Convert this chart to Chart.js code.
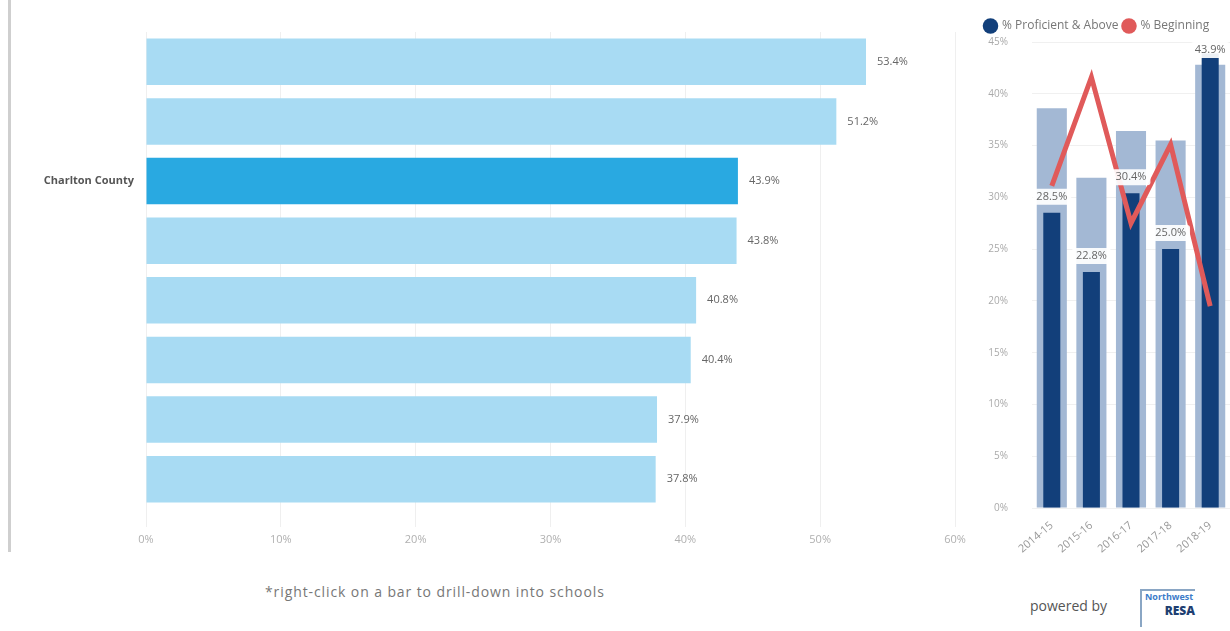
<!DOCTYPE html>
<html lang="en">
  <head>
    <meta charset="UTF-8" />
    <title>Proficiency by District</title>
    <script src="https://cdn.jsdelivr.net/npm/chart.js"></script>
    <style>
      body {
        margin: 0;
        background: #ffffff;
        font-family: "Open Sans", sans-serif;
        width: 1230px;
        height: 631px;
        position: relative;
        overflow: hidden;
      }
      .box { position: absolute; }
      #leftWrap { left: 0; top: 0; width: 980px; height: 549px; }
      #rightWrap { left: 980px; top: 0; width: 250px; height: 558px; }
      .edge {
        position: absolute;
        left: 8px;
        top: 0;
        width: 3px;
        height: 552px;
        background: #cfcfcf;
      }
      .note {
        position: absolute;
        left: 265px;
        top: 582px;
        font-size: 14px;
        letter-spacing: 0.9px;
        color: #777;
      }
      .powered {
        position: absolute;
        left: 1030px;
        top: 596px;
        font-size: 14px;
        color: #555;
      }
      .logo {
        position: absolute;
        left: 1140px;
        top: 589px;
        width: 50px;
        height: 36px;
        border-left: 2px solid #8aa6c4;
        border-top: 2px solid #8aa6c4;
        font-size: 9px;
        line-height: 11px;
        color: #3d7cc9;
        font-weight: bold;
        padding-left: 3px;
      }
      .logo b {
        display: block;
        text-align: right;
        font-size: 12px;
        color: #1f3f72;
        margin-top: 3px;
      }
    </style>
  </head>
  <body>
    <div class="edge"></div>
    <div class="box" id="leftWrap"><canvas id="districtChart"></canvas></div>
    <div class="box" id="rightWrap"><canvas id="trendChart"></canvas></div>
    <div class="note">*right-click on a bar to drill-down into schools</div>
    <div class="powered">powered by</div>
    <div class="logo">Northwest<b>RESA</b></div>

    <script>
      Chart.defaults.font.family = "'Open Sans', sans-serif";

      // left chart: districts (names blurred in source, only Charlton readable)
      const districts = ["", "", "Charlton County", "", "", "", "", ""];
      const districtValues = [53.4, 51.2, 43.9, 43.8, 40.8, 40.4, 37.9, 37.8];
      const highlight = "Charlton County";
      const xTicks = [0, 10, 20, 30, 40, 50, 60];

      // right chart: years
      const years = ["2014-15", "2015-16", "2016-17", "2017-18", "2018-19"];
      const proficient = [28.5, 22.8, 30.4, 25.0, 43.9];
      const comparison = [38.6, 31.9, 36.4, 35.5, 42.8];
      const beginning = [31.1, 41.6, 27.5, 35.1, 19.5];

      const navy = "#123f7a";
      const red = "#e05a5a";

      const barLabels = {
        id: "barLabels",
        afterDatasetsDraw(chart) {
          const ctx = chart.ctx;
          const meta = chart.getDatasetMeta(0);
          ctx.save();
          ctx.font = "11px 'Open Sans', sans-serif";
          ctx.fillStyle = "#666";
          ctx.textBaseline = "middle";
          meta.data.forEach((bar, i) => {
            ctx.fillText(districtValues[i].toFixed(1) + "%", bar.x + 11, bar.y);
          });
          ctx.restore();
        },
      };

      const trendLabels = {
        id: "trendLabels",
        afterDraw(chart) {
          const ctx = chart.ctx;
          const meta = chart.getDatasetMeta(0);
          const top = chart.chartArea.top;
          ctx.save();
          ctx.font = "11px 'Open Sans', sans-serif";
          ctx.textAlign = "center";
          ctx.textBaseline = "middle";
          meta.data.forEach((bar, i) => {
            const txt = proficient[i].toFixed(1) + "%";
            const y = Math.max(bar.y - 16, top + 8);
            const w = ctx.measureText(txt).width + 8;
            ctx.fillStyle = "rgba(255,255,255,0.92)";
            ctx.beginPath();
            ctx.roundRect(bar.x - w / 2, y - 8, w, 16, 3);
            ctx.fill();
            ctx.fillStyle = "#666";
            ctx.fillText(txt, bar.x, y);
          });
          ctx.restore();
        },
      };

      new Chart(document.getElementById("districtChart"), {
        type: "bar",
        data: {
          labels: districts,
          datasets: [
            {
              data: districtValues,
              backgroundColor: districts.map((d) =>
                d === highlight ? "#29a9e1" : "#a8dbf3"
              ),
              categoryPercentage: 1,
              barPercentage: 0.78,
            },
          ],
        },
        options: {
          indexAxis: "y",
          responsive: true,
          maintainAspectRatio: false,
          animation: false,
          layout: { padding: { top: 32, right: 25, bottom: 0, left: 0 } },
          plugins: { legend: { display: false }, tooltip: { enabled: false } },
          scales: {
            x: {
              min: 0,
              max: 60,
              afterBuildTicks: (s) => {
                s.ticks = xTicks.map((v) => ({ value: v }));
              },
              afterFit: (s) => {
                s.height = 40;
              },
              border: { display: false },
              grid: { color: "#efefef", tickLength: 18 },
              ticks: {
                padding: 6,
                color: "#b0b0b0",
                font: { size: 11 },
                callback: (v) => v + "%",
              },
            },
            y: {
              afterFit: (s) => {
                s.width = 146;
              },
              border: { display: false },
              grid: { display: false, drawTicks: false },
              ticks: {
                padding: 12,
                color: "#555",
                font: { size: 11, weight: "bold" },
              },
            },
          },
        },
        plugins: [barLabels],
      });

      new Chart(document.getElementById("trendChart"), {
        data: {
          labels: years,
          datasets: [
            {
              type: "bar",
              label: "% Proficient & Above",
              data: proficient,
              backgroundColor: navy,
              grouped: false,
              categoryPercentage: 1,
              barPercentage: 0.43,
              order: 1,
            },
            {
              type: "line",
              label: "% Beginning",
              data: beginning,
              borderColor: red,
              backgroundColor: red,
              borderWidth: 5,
              pointRadius: 0,
              tension: 0,
              order: 0,
            },
            {
              type: "bar",
              label: "comparison",
              data: comparison,
              backgroundColor: "#a3b8d4",
              grouped: false,
              categoryPercentage: 1,
              barPercentage: 0.76,
              order: 2,
            },
          ],
        },
        options: {
          responsive: true,
          maintainAspectRatio: false,
          animation: false,
          layout: { padding: { top: 15, right: 0, bottom: 0, left: 0 } },
          plugins: {
            tooltip: { enabled: false },
            legend: {
              align: "start",
              labels: {
                usePointStyle: true,
                boxWidth: 11,
                boxHeight: 11,
                padding: 5,
                color: "#777",
                font: { size: 12 },
                generateLabels: (chart) =>
                  [0, 1].map((i) => ({
                    text: chart.data.datasets[i].label,
                    fillStyle: i === 0 ? navy : red,
                    strokeStyle: i === 0 ? navy : red,
                    lineWidth: 0,
                    pointStyle: "circle",
                    fontColor: "#777",
                    datasetIndex: i,
                    hidden: false,
                  })),
              },
            },
          },
          scales: {
            x: {
              afterFit: (s) => {
                s.height = 50;
              },
              border: { display: false },
              grid: { display: false },
              ticks: {
                minRotation: 40,
                maxRotation: 40,
                color: "#999",
                font: { size: 11 },
              },
            },
            y: {
              min: 0,
              max: 45,
              afterFit: (s) => {
                s.width = 52;
              },
              border: { display: false },
              grid: { color: "#f0f0f0", drawTicks: false },
              ticks: {
                stepSize: 5,
                padding: 24,
                color: "#aaa",
                font: { size: 10 },
                callback: (v) => v + "%",
              },
            },
          },
        },
        plugins: [trendLabels],
      });
    </script>
  </body>
</html>
